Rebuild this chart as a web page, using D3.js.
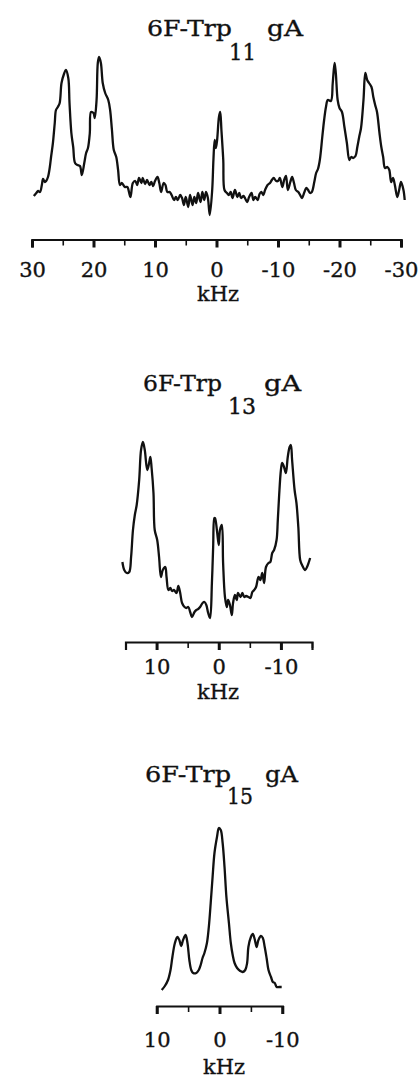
<!DOCTYPE html>
<html>
<head>
<meta charset="utf-8">
<script src="https://cdn.jsdelivr.net/npm/d3@7"></script>
<style>
  body { margin: 0; background: #fff; }
  svg text { font-family: 'DejaVu Serif', serif; fill: #111; stroke: #111; stroke-width: 0.35px; }
</style>
</head>
<body>
<div id="wrapper"></div>
<script>
// 19F solid-state NMR spectra (kHz vs arbitrary intensity)
const trp11Freq = [29.7,29.3,29.0,28.7,28.4,28.2,27.9,27.7,27.4,27.1,26.9,26.6,26.3,26.1,25.8,25.5,25.2,24.8,24.5,24.1,23.9,23.6,23.3,23.0,22.6,22.2,21.9,21.5,21.2,20.9,20.6,20.4,20.0,19.8,19.5,19.3,19.1,18.8,18.5,18.1,17.6,17.3,17.0,16.7,16.3,16.0,15.7,15.4,14.9,14.5,14.0,13.6,13.2,12.9,12.6,12.2,12.0,11.6,11.3,10.9,10.6,10.3,10.0,9.6,9.3,9.0,8.6,8.3,8.0,7.6,7.3,6.9,6.6,6.3,5.9,5.6,5.3,5.0,4.6,4.3,3.9,3.6,3.3,3.0,2.6,2.3,2.0,1.7,1.4,1.1,0.7,0.5,0.3,0.1,-0.1,-0.4,-0.6,-0.8,-1.1,-1.3,-1.7,-2.0,-2.3,-2.6,-3.0,-3.4,-3.7,-4.0,-4.4,-4.7,-5.0,-5.3,-5.7,-6.0,-6.3,-6.7,-7.0,-7.3,-7.6,-7.9,-8.3,-8.7,-9.0,-9.3,-9.7,-10.0,-10.3,-10.7,-11.0,-11.3,-11.6,-12.0,-12.3,-12.6,-12.9,-13.3,-13.6,-13.9,-14.3,-14.6,-14.9,-15.2,-15.5,-15.9,-16.2,-16.5,-16.8,-17.2,-17.5,-17.8,-18.1,-18.6,-18.9,-19.2,-19.4,-19.7,-20.0,-20.4,-20.8,-21.2,-21.6,-21.9,-22.2,-22.6,-22.9,-23.2,-23.5,-23.9,-24.2,-24.5,-24.8,-25.2,-25.5,-25.8,-26.1,-26.5,-26.8,-27.1,-27.4,-27.8,-28.1,-28.4,-28.7,-29.0,-29.4,-29.7,-30.0,-30.4,-30.6]
const trp11Int = [24,27,29,28,35,41,38,39,43,53,63,77,97,110,113,117,137,146,150,142,117,87,73,57,55,54,45,57,67,72,87,108,107,102,120,157,163,157,137,127,120,110,90,70,63,50,35,37,33,33,23,37,39,35,42,37,42,36,40,35,38,34,39,43,37,28,37,35,28,28,25,20,23,20,25,22,15,23,13,25,15,23,17,27,18,28,20,28,22,5,30,60,80,72,80,103,108,90,60,30,27,25,28,22,30,23,27,22,24,21,18,23,27,20,23,20,26,28,25,30,35,37,40,42,39,39,42,33,40,44,30,38,43,37,30,28,25,22,28,32,30,27,28,38,47,51,60,83,100,113,120,119,137,157,147,120,112,108,93,77,60,63,62,64,73,83,92,120,147,140,137,133,123,115,108,87,73,63,52,53,50,38,42,35,23,30,38,30,20]

const trp13Freq = [15.5,15.2,14.8,14.4,14.1,13.8,13.5,13.2,12.8,12.5,12.2,11.9,11.5,11.2,11.0,10.8,10.5,10.3,9.9,9.6,9.3,9.0,8.6,8.4,8.1,7.8,7.5,7.2,6.8,6.5,6.2,5.9,5.5,5.2,4.9,4.6,4.3,3.9,3.6,3.3,3.0,2.6,2.3,2.0,1.7,1.4,1.1,0.9,0.7,0.6,0.3,0.0,-0.2,-0.5,-0.7,-1.0,-1.3,-1.5,-1.8,-2.1,-2.3,-2.6,-2.9,-3.1,-3.5,-3.8,-4.1,-4.4,-4.8,-5.1,-5.4,-5.7,-6.0,-6.4,-6.7,-7.0,-7.3,-7.6,-8.0,-8.3,-8.6,-8.9,-9.3,-9.5,-9.7,-10.0,-10.2,-10.5,-10.8,-11.1,-11.4,-11.6,-11.8,-12.2,-12.5,-12.8,-13.1,-13.4,-13.9,-14.2,-14.5,-14.7]
const trp13Int = [63,55,52,53,68,95,110,120,145,175,183,175,155,162,168,157,132,95,85,68,48,55,58,48,35,37,34,35,32,39,32,22,18,17,18,13,8,13,15,16,18,22,23,20,12,7,42,78,107,107,95,80,95,100,62,28,18,25,20,10,22,30,25,32,28,32,28,29,28,27,33,35,38,48,45,52,42,58,62,63,72,75,85,105,128,155,162,158,152,168,178,180,165,135,122,98,65,60,55,58,63,67]

const trp15Freq = [9.2,8.7,8.2,7.8,7.5,7.1,6.7,6.4,6.1,5.8,5.4,5.1,4.8,4.5,4.2,3.7,3.3,3.0,2.7,2.4,2.0,1.7,1.4,1.1,0.8,0.4,0.1,-0.2,-0.5,-0.8,-1.1,-1.5,-1.8,-2.1,-2.4,-2.8,-3.3,-3.7,-4.1,-4.4,-4.6,-5.0,-5.3,-5.6,-5.9,-6.2,-6.6,-6.9,-7.2,-7.5,-7.8,-8.2,-8.5,-8.8,-9.1,-9.5,-9.9]
const trp15Int = [10,14,20,30,43,57,63,60,54,60,65,57,40,30,27,27,30,35,42,47,57,73,97,123,147,163,172,170,157,133,103,77,57,45,37,32,29,28,30,37,53,63,66,61,53,60,64,62,53,42,30,23,18,17,13,13,13]

const trp11Ticks = [30,25,20,15,10,5,0,-5,-10,-15,-20,-25,-30]
const trp13Ticks = [15,10,5,0,-5,-10,-15]
const trp15Ticks = [10,5,0,-5,-10]

const titleMain = '6F-Trp'
const titleTail = 'gA'
const unitLabel = 'kHz'

const panels = [
  {
    freq: trp11Freq, intensity: trp11Int, ticks: trp11Ticks, sub: '11',
    xDomain: [30, -30], xRange: [32, 401], yDomain: [0, 165], yRange: [220, 55],
    axisY: 239.5, labelY: 277, unitX: 218, unitY: 301,
    title: { x: 147, w: 85, y: 36, subX: 229, subW: 27, subY: 60, tailX: 267, tailW: 36 },
  },
  {
    freq: trp13Freq, intensity: trp13Int, ticks: trp13Ticks, sub: '13',
    xDomain: [15, -15], xRange: [125.5, 312], yDomain: [0, 185], yRange: [625, 440],
    axisY: 642, labelY: 674, unitX: 218, unitY: 699,
    title: { x: 143, w: 79, y: 391, subX: 228, subW: 28, subY: 414, tailX: 264, tailW: 37 },
  },
  {
    freq: trp15Freq, intensity: trp15Int, ticks: trp15Ticks, sub: '15',
    xDomain: [10, -10], xRange: [156.7, 282.3], yDomain: [0, 175], yRange: [1000, 825],
    axisY: 1006, labelY: 1047, unitX: 224, unitY: 1074,
    title: { x: 145, w: 86, y: 782, subX: 227, subW: 26, subY: 804, tailX: 265, tailW: 33 },
  },
]

const width = 419
const height = 1087
const isMajor = (d) => d % 10 === 0

const svg = d3
  .select('#wrapper')
  .append('svg')
  .attr('width', width)
  .attr('height', height)

panels.forEach((p) => {
  const points = p.freq.map((f, i) => ({ f, v: p.intensity[i] }))

  const xScale = d3.scaleLinear().domain(p.xDomain).range(p.xRange)
  const yScale = d3.scaleLinear().domain(p.yDomain).range(p.yRange)

  const g = svg.append('g')

  // title: 6F-Trp with residue number as subscript
  g.append('text')
    .attr('x', p.title.x)
    .attr('y', p.title.y)
    .attr('font-size', 22)
    .attr('textLength', p.title.w)
    .attr('lengthAdjust', 'spacingAndGlyphs')
    .text(titleMain)
  g.append('text')
    .attr('x', p.title.subX)
    .attr('y', p.title.subY)
    .attr('font-size', 22)
    .attr('textLength', p.title.subW)
    .attr('lengthAdjust', 'spacingAndGlyphs')
    .text(p.sub)
  g.append('text')
    .attr('x', p.title.tailX)
    .attr('y', p.title.y)
    .attr('font-size', 22)
    .attr('textLength', p.title.tailW)
    .attr('lengthAdjust', 'spacingAndGlyphs')
    .text(titleTail)

  const lineGenerator = d3
    .line()
    .x((d) => xScale(d.f))
    .y((d) => yScale(d.v))
    .curve(d3.curveCatmullRom.alpha(0.5))

  g.append('path')
    .datum(points)
    .attr('fill', 'none')
    .attr('stroke', '#111')
    .attr('stroke-width', 2.3)
    .attr('stroke-linejoin', 'round')
    .attr('d', lineGenerator)

  const xAxisGenerator = d3
    .axisBottom(xScale)
    .tickValues(p.ticks)
    .tickSizeOuter(0)
    .tickSize(8)
    .tickFormat((d) => (isMajor(d) ? String(d) : ''))

  const xAxis = g
    .append('g')
    .attr('transform', `translate(0, ${p.axisY})`)
    .call(xAxisGenerator)

  xAxis.select('.domain').attr('stroke', '#111').attr('stroke-width', 2.2)
  xAxis
    .selectAll('.tick line')
    .attr('stroke', '#111')
    .attr('stroke-width', (d) => (isMajor(d) ? 3 : 1.6))
    .attr('y2', (d) => (isMajor(d) ? 8 : 6))
  xAxis
    .selectAll('.tick text')
    .attr('y', p.labelY - p.axisY)
    .attr('dy', 0)
    .attr('font-size', 21)
    .attr('font-family', 'DejaVu Serif, serif')
    .attr('fill', '#111')

  g.append('text')
    .attr('x', p.unitX)
    .attr('y', p.unitY)
    .attr('text-anchor', 'middle')
    .attr('font-size', 21)
    .text(unitLabel)
})
</script>
</body>
</html>
